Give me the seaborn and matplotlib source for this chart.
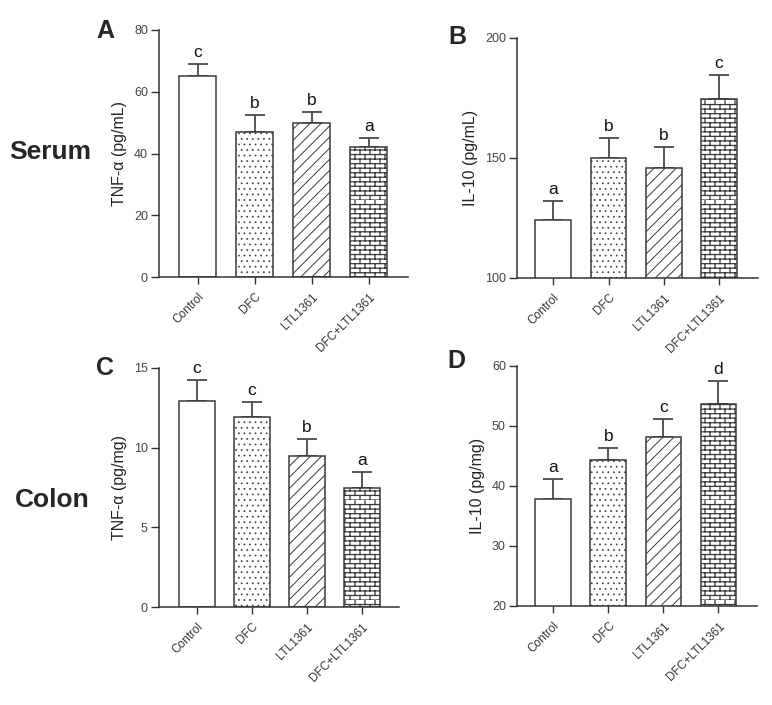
import warnings
import numpy as np
import pandas as pd
import matplotlib
matplotlib.use("Agg")
import matplotlib.pyplot as plt
import matplotlib.hatch as mhatch
from matplotlib.path import Path
import seaborn as sns

warnings.filterwarnings("ignore")

# ---------------- data ----------------
groups = ["Control", "DFC", "LTL1361", "DFC+LTL1361"]

serum_tnf = [65.0, 47.1, 49.9, 42.0]
serum_tnf_err = [3.9, 5.3, 3.5, 3.0]
serum_tnf_sig = ["c", "b", "b", "a"]

serum_il10 = [124.2, 150.0, 145.9, 174.6]
serum_il10_err = [8.0, 8.4, 8.5, 9.8]
serum_il10_sig = ["a", "b", "b", "c"]

colon_tnf = [12.95, 11.95, 9.47, 7.5]
colon_tnf_err = [1.3, 0.92, 1.07, 0.98]
colon_tnf_sig = ["c", "c", "b", "a"]

colon_il10 = [37.8, 44.3, 48.1, 53.7]
colon_il10_err = [3.3, 2.0, 3.1, 3.8]
colon_il10_sig = ["a", "b", "c", "d"]


# brick hatch (not part of matplotlib's built-in set)
class BrickHatch(mhatch.HatchPatternBase):
    def __init__(self, hatch, density):
        self.rows = 22 if "b" in hatch else 0
        self.cols = 10
        self.num_vertices = self.rows * 2 + self.rows * self.cols * 2

    def set_vertices_and_codes(self, vertices, codes):
        r, c = self.rows, self.cols
        ys = np.arange(r) / r
        vertices[0:2 * r:2, 0] = 0.0
        vertices[0:2 * r:2, 1] = ys
        vertices[1:2 * r:2, 0] = 1.0
        vertices[1:2 * r:2, 1] = ys
        k = 2 * r
        for i in range(r):
            xs = np.arange(c) / c + (0.5 / c if i % 2 else 0.0)
            vertices[k:k + 2 * c:2, 0] = xs
            vertices[k:k + 2 * c:2, 1] = ys[i]
            vertices[k + 1:k + 2 * c:2, 0] = xs
            vertices[k + 1:k + 2 * c:2, 1] = ys[i] + 1.0 / r
            k += 2 * c
        codes[0::2] = Path.MOVETO
        codes[1::2] = Path.LINETO


mhatch._hatch_types.append(BrickHatch)

sns.set_style("ticks")
plt.rcParams["font.family"] = ["Liberation Sans", "DejaVu Sans"]
plt.rcParams["hatch.linewidth"] = 0.7

W, H = 772, 705
fig = plt.figure(figsize=(W / 100, H / 100), dpi=100)

EDGE = "#3a3a3a"
hatches = ["", "...", "///", "b"]
hatch_lw = [0.7, 0.5, 0.7, 0.9]


def px_axes(left, right, top, bottom):
    return fig.add_axes([left / W, 1 - bottom / H, (right - left) / W, (bottom - top) / H])


def panel(ax, vals, errs, sigs, ylim, yticks, ylabel, xlim):
    df = pd.DataFrame({"group": groups, "value": vals})
    sns.barplot(data=df, x="group", y="value", color="white", edgecolor=EDGE,
                linewidth=1.1, width=0.65, saturation=1, ax=ax, zorder=2)
    for p, h, lw in zip(ax.patches, hatches, hatch_lw):
        p.set_facecolor("white")
        if h:
            p.set_hatch(h)
            if hasattr(p, "set_hatch_linewidth"):
                p.set_hatch_linewidth(lw)
    x = np.arange(len(groups))
    ax.errorbar(x, vals, yerr=[np.zeros(len(vals)), errs], fmt="none",
                ecolor="#4a4a4a", elinewidth=1.3, capsize=7, capthick=1.3, zorder=1)
    for xi, v, e, s in zip(x, vals, errs, sigs):
        ax.annotate(s, (xi, v + e), xytext=(0, 3), textcoords="offset points",
                    ha="center", va="bottom", fontsize=12.5, color="#111")
    ax.set_ylim(*ylim)
    ax.set_xlim(*xlim)
    ax.set_yticks(yticks)
    ax.set_xlabel("")
    ax.set_ylabel(ylabel, fontsize=11.5, color="#222", labelpad=5)
    sns.despine(ax=ax)
    for sp in ["left", "bottom"]:
        ax.spines[sp].set_color("#333")
        ax.spines[sp].set_linewidth(1.1)
    ax.tick_params(axis="y", length=6, width=1.0, color="#333", labelsize=9,
                   labelcolor="#444", pad=2)
    ax.tick_params(axis="x", length=5, width=1.0, color="#333", labelsize=8.5,
                   labelcolor="#333", pad=5)
    plt.setp(ax.get_xticklabels(), rotation=45, ha="right", rotation_mode="anchor")


axA = px_axes(159, 408, 30, 277)
panel(axA, serum_tnf, serum_tnf_err, serum_tnf_sig, (0, 80), [0, 20, 40, 60, 80],
      "TNF-α (pg/mL)", (-0.68, 3.69))
axB = px_axes(517, 758, 38, 278)
panel(axB, serum_il10, serum_il10_err, serum_il10_sig, (100, 200), [100, 150, 200],
      "IL-10 (pg/mL)", (-0.66, 3.71))
axC = px_axes(159, 399, 368, 607)
panel(axC, colon_tnf, colon_tnf_err, colon_tnf_sig, (0, 15), [0, 5, 10, 15],
      "TNF-α (pg/mg)", (-0.69, 3.67))
axD = px_axes(517, 757, 366, 606)
panel(axD, colon_il10, colon_il10_err, colon_il10_sig, (20, 60), [20, 30, 40, 50, 60],
      "IL-10 (pg/mg)", (-0.66, 3.70))

# panel letters and row labels
for lbl, px, py in [("A", 105, 38), ("B", 457, 44), ("C", 105, 375), ("D", 456, 368)]:
    fig.text(px / W, 1 - py / H, lbl, fontsize=18, fontweight="bold", ha="center", va="baseline")
fig.text(50 / W, 1 - 159 / H, "Serum", fontsize=19, fontweight="bold", ha="center", va="baseline")
fig.text(52 / W, 1 - 507 / H, "Colon", fontsize=19, fontweight="bold", ha="center", va="baseline")

fig.savefig("out.png", dpi=100)
